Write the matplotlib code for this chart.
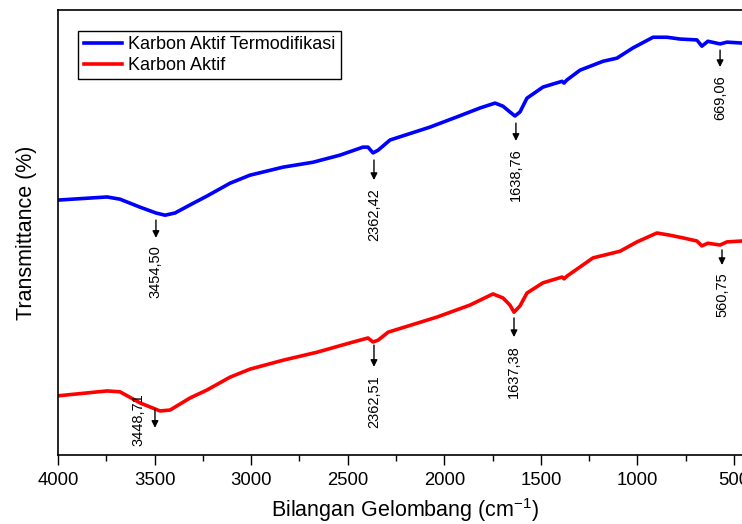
import matplotlib.pyplot as plt
from matplotlib.ticker import MultipleLocator

plt.rcParams['font.family'] = ['Liberation Sans', 'DejaVu Sans']
plt.rcParams['mathtext.default'] = 'regular'

# wavenumber (cm-1) and transmittance
wn_termo = [4000, 3746, 3679, 3575, 3493, 3446, 3394, 3317, 3229, 3109, 3006, 2939,
            2835, 2680, 2540, 2421, 2395, 2369, 2343, 2281, 2074, 1934, 1815, 1737,
            1696, 1660, 1634, 1608, 1572, 1489, 1390, 1380, 1365, 1297, 1178, 1106,
            1023, 919, 847, 780, 692, 666, 635, 572, 536, 459, 400]
t_termo = [57.3, 58.0, 57.5, 55.7, 54.4, 53.9, 54.4, 56.2, 58.2, 61.1, 62.9, 63.6,
           64.7, 65.8, 67.4, 69.2, 69.2, 67.9, 68.5, 70.8, 73.7, 76.0, 78.0, 79.1,
           78.4, 77.1, 76.2, 77.1, 80.2, 82.7, 84.0, 83.6, 84.3, 86.5, 88.5, 89.2,
           91.5, 93.9, 93.9, 93.5, 93.3, 91.9, 93.0, 92.4, 92.8, 92.6, 92.6]

wn_aktif = [4000, 3746, 3679, 3575, 3472, 3420, 3317, 3229, 3109, 3006, 2835, 2659,
            2488, 2395, 2369, 2343, 2291, 2038, 1867, 1748, 1696, 1660, 1639, 1608,
            1572, 1489, 1390, 1380, 1365, 1230, 1090, 1002, 899, 831, 764, 692, 666,
            635, 572, 536, 459, 400]
t_aktif = [13.3, 14.4, 14.2, 11.7, 9.9, 10.1, 12.8, 14.6, 17.5, 19.3, 21.3, 23.1,
           25.2, 26.3, 25.4, 25.8, 27.6, 31.0, 33.7, 36.2, 35.3, 33.7, 32.1, 33.5,
           36.4, 38.7, 40.0, 39.6, 40.2, 44.3, 45.8, 47.9, 49.9, 49.4, 48.8, 48.1, 47.0,
           47.6, 47.2, 47.9, 48.1, 48.1]

# peak labels: text, arrow x, arrow tail, arrow tip, text top
peak_text = ['3454,50', '2362,42', '1638,76', '669,06',
             '2362,51', '1637,38', '560,75']
peak_x = [3493, 2364, 1629, 572, 2364, 1639, 562]
peak_tail = [52.8, 66.3, 74.6, 91.0, 24.7, 30.8, 46.1]
peak_tip = [48.8, 61.8, 70.6, 87.2, 19.8, 26.5, 42.7]
peak_ytext = [47.2, 60.0, 69.0, 85.4, 18.0, 24.7, 41.1]

fig = plt.figure(figsize=(7.42, 5.24), dpi=100)
ax = fig.add_axes([0.0782, 0.1317, 0.937, 0.849])

ax.plot(wn_termo, t_termo, color='#0000ff', lw=2.6, label='Karbon Aktif Termodifikasi')
ax.plot(wn_aktif, t_aktif, color='#ff0000', lw=2.6, label='Karbon Aktif')

arrow = dict(arrowstyle='-|>', color='k', lw=1, mutation_scale=10, shrinkA=0, shrinkB=0)
for txt, x, y0, y1, yt in zip(peak_text, peak_x, peak_tail, peak_tip, peak_ytext):
    ax.annotate('', xy=(x, y1), xytext=(x, y0), arrowprops=arrow)
    ax.text(x, yt, txt, rotation=90, ha='center', va='top', fontsize=10.5)

# the 3448,71 label sits beside its arrow
ax.annotate('', xy=(3498, 6.1), xytext=(3498, 10.3), arrowprops=arrow)
ax.text(3586, 7.9, '3448,71', rotation=90, ha='center', va='center', fontsize=10.5)

ax.set_xlim(4000, 400)
ax.set_ylim(0, 100)
ax.xaxis.set_major_locator(MultipleLocator(500))
ax.xaxis.set_minor_locator(MultipleLocator(250))
ax.tick_params(axis='x', which='major', length=7, width=1, labelsize=13.3, pad=5)
ax.tick_params(axis='x', which='minor', length=4, width=1)
ax.tick_params(axis='y', left=False, labelleft=False)
for s in ax.spines.values():
    s.set_linewidth(1.2)

ax.set_xlabel('Bilangan Gelombang (cm$^{-1}$)', fontsize=15.5, labelpad=5)
ax.set_ylabel('Transmittance (%)', fontsize=15.5, labelpad=15)

ax.legend(loc='upper left', bbox_to_anchor=(0.029, 0.953), borderaxespad=0,
          fancybox=False, edgecolor='k', framealpha=1, fontsize=13,
          handlelength=2.1, handletextpad=0.35, labelspacing=0.2, borderpad=0.3)

fig.savefig('out.png', dpi=100)
